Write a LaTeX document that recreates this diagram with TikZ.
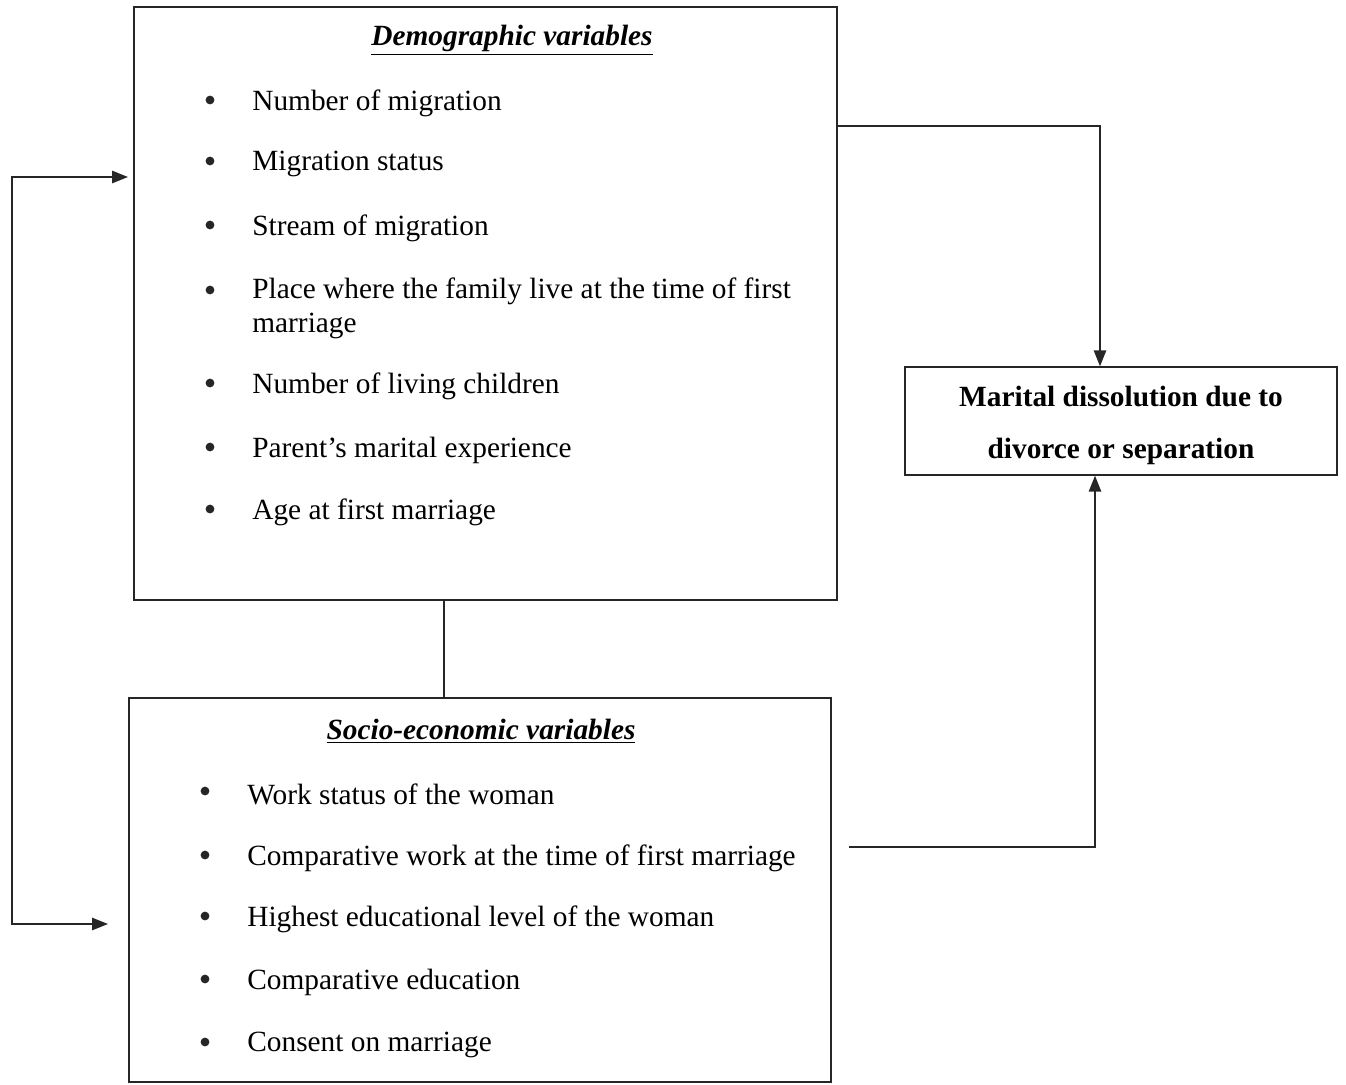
\documentclass[tikz,border=0pt]{standalone}
\usepackage{fontspec}
\setmainfont{Liberation Serif}
\usetikzlibrary{arrows.meta}

\begin{document}
\begin{tikzpicture}[x=0.02cm,y=-0.02cm,
  box/.style={draw=black!85,line width=0.8pt},
  item/.style={anchor=west,inner sep=0pt,align=left,yshift=-0.06cm,
    font=\fontsize{16.7}{19.4}\selectfont},
  dot/.style={circle,fill=black!85,inner sep=0pt,minimum size=5pt},
  heading/.style={yshift=-0.06cm,font=\fontsize{16.7}{19}\selectfont\bfseries\itshape},
  link/.style={draw=black!85,line width=0.8pt,-{Triangle[length=9pt,width=7pt]}},
  twolink/.style={draw=black!85,line width=0.8pt,
    {Triangle[length=9pt,width=7pt]}-{Triangle[length=9pt,width=7pt]}}]

  \useasboundingbox (0,0) rectangle (1346,1085);

  \node[box,minimum width=14.06cm,minimum height=11.86cm] (demo) at (485.5,303.5) {};
  \node[box,minimum width=14.04cm,minimum height=7.68cm] (socio) at (480,890) {};
  \node[box,minimum width=8.64cm,minimum height=2.16cm] (result) at (1121,421) {};
  \node[align=center,font=\fontsize{16.7}{29.6}\selectfont\bfseries] (resulttext)
    at (1121,425) {Marital dissolution due to\\divorce or separation};

  \node[heading] (demotitle) at (512,37) {\underline{Demographic variables}};
  \node[heading] (sociotitle) at (481,728) {\underline{Socio-economic variables}};

  \foreach \y/\t [count=\i] in {100/Number of migration, 161/Migration status,
      225/Stream of migration,
      305/{Place where the family live at the time of first\\marriage},
      383/Number of living children, 447/Parent’s marital experience,
      509/Age at first marriage}
    \node[item] (d\i) at (252,\y) {\t};
  \foreach \y [count=\i] in {100,161,225,290,383,447,509}
    \node[dot] (db\i) at (210,\y) {};

  \foreach \y/\t [count=\i] in {791/Work status of the woman,
      855/Comparative work at the time of first marriage,
      916/Highest educational level of the woman,
      979/Comparative education, 1042/Consent on marriage}
    \node[item] (s\i) at (247,\y) {\t};
  \foreach \y [count=\i] in {791,855,916,979,1042}
    \node[dot] (sb\i) at (205,\y) {};

  \coordinate (dout) at (837,126);
  \coordinate (sout) at (849,847);
  \coordinate (dlink) at (444,600);
  \coordinate (lefttop) at (128,177);
  \coordinate (leftbot) at (108,924);

  \draw[link] (dout) -| ([xshift=-0.42cm]result.north);
  \draw[link] (sout) -| ([xshift=-0.52cm]result.south);
  \draw[draw=black!85,line width=0.8pt] (dlink) -- (dlink |- socio.north);
  \draw[twolink] (lefttop) -| (12,550) |- (leftbot);
\end{tikzpicture}
\end{document}
